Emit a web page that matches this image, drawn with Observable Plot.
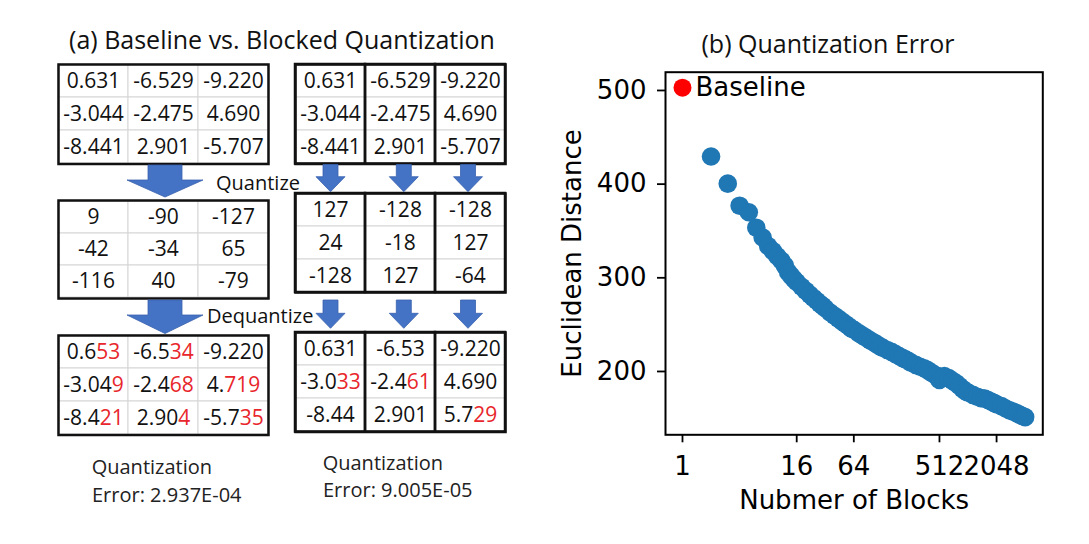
<!DOCTYPE html>
<html><head><meta charset="utf-8">
<script src="https://cdn.jsdelivr.net/npm/d3@7"></script>
<script src="https://cdn.jsdelivr.net/npm/@observablehq/plot@0.6"></script>
<style>
html,body{margin:0;padding:0;background:#fff;}
#page{position:relative;width:1089px;height:544px;overflow:hidden;background:#fff;}
#page svg{position:absolute;}
</style></head><body><div id="page"></div>
<script>
// ---------- data: panel (a) ----------
const columns = [0, 1, 2];
const rows = [0, 1, 2];
const originalValues = ["0.631","-6.529","-9.220","-3.044","-2.475","4.690","-8.441","2.901","-5.707"];
const baselineQuantized = ["9","-90","-127","-42","-34","65","-116","40","-79"];
const blockedQuantized = ["127","-128","-128","24","-18","127","-128","127","-64"];
const baselineDequantized = ["0.653","-6.534","-9.220","-3.049","-2.468","4.719","-8.421","2.904","-5.735"];
const baselineErrorDigits = [2,2,0,1,2,3,2,1,2];
const blockedDequantized = ["0.631","-6.53","-9.220","-3.033","-2.461","4.690","-8.44","2.901","5.729"];
const blockedErrorDigits = [0,0,0,2,2,0,0,0,2];
const baselineError = "Error: 2.937E-04";
const blockedError = "Error: 9.005E-05";

// ---------- data: panel (b) ----------
const blocks = [2,3,4,5,6,7,8,9,10,11,12,13,14,15,16,18,20,22,24,26,28,30,32,36,40,44,48,52,56,60,64,
  72,80,88,96,104,112,120,128,144,160,176,192,208,224,240,256,288,320,352,384,416,448,480,512,
  576,640,704,768,832,896,960,1024,1152,1280,1408,1536,1664,1792,1920,2048,
  2304,2560,2816,3072,3328,3584,3840,4096];
const distance = [429.5,400.5,377,370,353.5,343,334,328.5,323,318.5,313,306,302,298.5,295.5,290.5,286,282,278.5,275.5,272.5,270,267.5,263,259.5,256.5,253.5,251,248.5,246,244.5,
  241,238,235.5,233,231,229,227,225.5,223,221,218.5,216.5,214.5,213,211.5,209.5,207,205,203.5,201.5,199,197,195.5,191,
  195,193,190,187.5,184.5,181.5,179,177.5,175,173,171.5,171,169.5,168,166.5,165,
  163,160.5,158.5,157,155.5,154,152.5,151.3];
const baselineBlocks = [1];
const baselineDistance = [503];
const xTicks = [1, 16, 64, 512, 2048];
const yTicks = [200, 300, 400, 500];

const page = document.getElementById("page");
const NS = "http://www.w3.org/2000/svg";

function table(values, redDigits, blocked, box) {
  const [x0, y0, x1, y1] = box;
  const m = 2;
  const cells = values.map((v, i) => ({row: Math.floor(i / 3), col: i % 3, v, red: redDigits ? redDigits[i] : 0}));
  const svg = Plot.plot({
    width: x1 - x0 + 2 * m, height: y1 - y0 + 2 * m, margin: m,
    x: {type: "band", domain: columns, padding: 0, axis: null},
    y: {type: "band", domain: rows, padding: 0, axis: null},
    style: {background: "transparent", fontFamily: "'Open Sans'", fontSize: "21px", overflow: "visible"},
    marks: [
      Plot.cell(cells, {x: "col", y: "row", fill: "white", stroke: "#d6d6d6", strokeWidth: 1, inset: 0}),
      Plot.text(cells, {x: "col", y: "row", text: "v", fill: "#111", fontSize: 21}),
      blocked ? Plot.cell(columns, {x: d => d, fill: "none", stroke: "#111", strokeWidth: 2.5, inset: 0}) : null,
      Plot.frame({stroke: "#111", strokeWidth: 2.5})
    ]
  });
  const texts = svg.querySelectorAll("text");
  texts.forEach((t, i) => {
    const c = cells[i];
    if (!c || !c.red || t.textContent !== c.v) return;
    const a = c.v.slice(0, c.v.length - c.red), b = c.v.slice(c.v.length - c.red);
    t.textContent = "";
    const t1 = document.createElementNS(NS, "tspan"); t1.textContent = a;
    const t2 = document.createElementNS(NS, "tspan"); t2.textContent = b; t2.setAttribute("fill", "#e8262b");
    t.append(t1, t2);
  });
  svg.style.left = (x0 - m) + "px";
  svg.style.top = (y0 - m) + "px";
  page.appendChild(svg);
}

table(originalValues, null, false, [57.5, 64, 267.5, 163.5]);
table(baselineQuantized, null, false, [57.5, 199.5, 267.5, 297.5]);
table(baselineDequantized, baselineErrorDigits, false, [57.5, 335, 267.5, 434.5]);
table(originalValues, null, true, [295, 64, 505, 163.5]);
table(blockedQuantized, null, true, [295, 193, 505, 292]);
table(blockedDequantized, blockedErrorDigits, true, [295, 331.5, 505, 431]);

// ---------- panel (b) chart ----------
const points = blocks.map((b, i) => ({blocks: b, distance: distance[i]}));
const base = baselineBlocks.map((b, i) => ({blocks: b, distance: baselineDistance[i], label: "Baseline"}));
const chart = Plot.plot({
  width: 500, height: 490,
  marginLeft: 105, marginRight: 17.7, marginTop: 41.7, marginBottom: 85.7,
  x: {type: "log", base: 2, domain: [0.662, 6290]},
  y: {domain: [132.4, 519.5]},
  style: {background: "transparent", fontFamily: "'DejaVu Sans'", fontSize: "26px", color: "black", overflow: "visible"},
  marks: [
    Plot.axisX({ticks: xTicks, tickFormat: d => String(d), tickSize: 8, tickPadding: 14, strokeWidth: 1.8, fontSize: 26,
      label: "Nubmer of Blocks", labelAnchor: "center", labelOffset: 74, labelArrow: "none"}),
    Plot.axisY({ticks: yTicks, tickSize: 8, tickPadding: 11, strokeWidth: 1.8, fontSize: 26,
      label: "Euclidean Distance", labelAnchor: "center", labelOffset: 103, labelArrow: "none"}),
    Plot.dot(points, {x: "blocks", y: "distance", r: 9.3, fill: "#1f77b4"}),
    Plot.dot(base, {x: "blocks", y: "distance", r: 9, fill: "#ff0000"}),
    Plot.text(base, {x: "blocks", y: "distance", text: "label", textAnchor: "start", dx: 13, fontSize: 26, fill: "black"}),
    Plot.frame({stroke: "black", strokeWidth: 2})
  ]
});
chart.style.left = "560px";
chart.style.top = "30px";
page.appendChild(chart);

// ---------- annotations: titles, arrows, captions ----------
const ann = d3.select(page).append("svg")
  .attr("width", 1089).attr("height", 544)
  .style("left", "0px").style("top", "0px").style("pointer-events", "none");

function blockArrow(cx, top, shaftW, headW, headStart, tip) {
  const pts = [[cx - shaftW/2, top], [cx + shaftW/2, top], [cx + shaftW/2, headStart], [cx + headW/2, headStart],
    [cx, tip], [cx - headW/2, headStart], [cx - shaftW/2, headStart]];
  ann.append("polygon").attr("points", pts.map(p => p.join(",")).join(" "))
    .attr("fill", "#4472c4").attr("stroke", "#3a62ad").attr("stroke-width", 0.8);
}
blockArrow(165, 165, 34, 76, 180, 197);
blockArrow(165, 300, 34, 76, 315, 333.5);
for (const cx of [330.5, 403.8, 468]) {
  blockArrow(cx, 164.5, 15, 29, 176.7, 191.7);
  blockArrow(cx, 300, 15, 29, 313.3, 328.3);
}

function label(text, x, y, size, anchor, fill) {
  ann.append("text").attr("x", x).attr("y", y).attr("font-family", "'Open Sans'")
    .attr("font-size", size).attr("text-anchor", anchor).attr("fill", fill || "#111").text(text);
}
label("(a) Baseline vs. Blocked Quantization", 282, 49.3, 25, "middle");
label("(b) Quantization Error", 828, 53.3, 25, "middle");
label("Quantize", 216, 190, 20, "start");
label("Dequantize", 207, 323.3, 20, "start");
label("Quantization", 91.7, 474.3, 20, "start", "#222");
label(baselineError, 92, 501.7, 20, "start", "#222");
label("Quantization", 322.7, 470, 20, "start", "#222");
label(blockedError, 323, 497.3, 20, "start", "#222");
</script></body></html>
